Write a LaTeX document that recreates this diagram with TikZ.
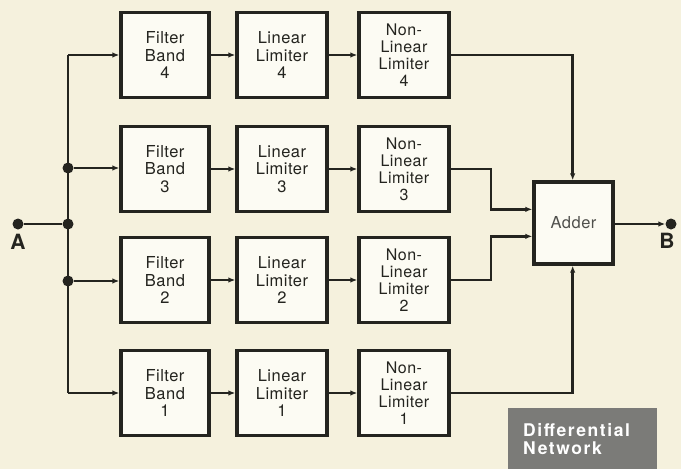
\documentclass[tikz,border=0pt]{standalone}
\usepackage{fontspec}
\setmainfont{TeX Gyre Heros}[LetterSpace=3]
\usetikzlibrary{arrows.meta,calc}
\definecolor{paper}{HTML}{F5F1DD}
\definecolor{boxfill}{HTML}{FCFBF3}
\definecolor{ink}{HTML}{24241F}
\definecolor{panel}{HTML}{7B7B78}
\tikzset{
  blk/.style={draw=ink, line width=3.3pt, fill=boxfill, minimum height=85pt, align=center,
    font=\fontsize{16.5}{17.6}\selectfont, text=ink, inner sep=0pt},
  fb/.style={blk, minimum width=88pt},
  ll/.style={blk, minimum width=90pt},
  nl/.style={blk, minimum width=90pt, font=\fontsize{16}{17}\selectfont},
  wire/.style={draw=ink, line width=2.5pt},
  arr/.style={wire, -{Latex[length=7pt,width=5.5pt]}},
  dot/.style={circle, fill=ink, inner sep=0pt, minimum size=11pt},
  term/.style={font=\fontsize{21}{21}\bfseries\selectfont, text=ink},
}
\begin{document}
\begin{tikzpicture}[x=1pt,y=-1pt]
\fill[paper] (0,0) rectangle (681,469);
\useasboundingbox (0,0) rectangle (681,469);
% rows
\foreach \r/\y in {4/55,3/169,2/280,1/393}{
  \node[fb] (fb\r) at (165,\y) {Filter\\Band\\\r};
  \node[ll] (ll\r) at (282,\y) {Linear\\Limiter\\\r};
  \node[nl] (nl\r) at (404,\y) {Non-\\Linear\\Limiter\\\r};
  \draw[arr] (fb\r) -- (ll\r);
  \draw[arr] (ll\r) -- (nl\r);
}
\node[blk, minimum width=79pt, minimum height=82pt, text=ink!80] (adder) at (573.5,223) {Adder};
% input bus
\node[dot] (ina) at (18,224) {};
\node[dot] (j2) at (68,224) {};
\node[dot] (j3) at (68,168) {};
\node[dot] (j1) at (68,281) {};
\coordinate (top) at (68,55);
\coordinate (bot) at (68,393);
\draw[wire] (ina) -- (j2);
\draw[wire] (top) -- (bot);
\draw[arr] (top) -- (fb4.west);
\draw[arr] (j3) -- (fb3.west |- j3);
\draw[arr] (j1) -- (fb1.west |- j1) ;
\draw[arr] (bot) -- (fb1.west |- bot);
\node[term, anchor=north] (la) at (18,231) {A};
% outputs to adder
\coordinate (a4) at ($(adder.north west)!0.49!(adder.north east)$);
\coordinate (a1) at ($(adder.south west)!0.49!(adder.south east)$);
\coordinate (a3) at ($(adder.north west)+(0,29)$);
\coordinate (a2) at ($(adder.north west)+(0,56)$);
\draw[arr] (nl4.east) -| (a4);
\draw[arr] (nl1.east) -| (a1);
\draw[arr] (nl3.east) -- (491,169) |- (a3);
\draw[arr] (nl2.east) -- (491,280) |- (a2);
% output
\node[dot] (outb) at (671,224) {};
\draw[arr] (adder.east |- outb) -- (outb);
\node[term, anchor=north] (lb) at (667,230) {B};
% panel
\fill[panel] (508,408) rectangle (657,469);
\node[anchor=north west, align=left, text=white, font=\fontsize{17.5}{18}\bfseries\addfontfeature{LetterSpace=9}\selectfont, inner sep=0pt] (dn) at (523,423) {Differential\\Network};
\end{tikzpicture}
\end{document}
